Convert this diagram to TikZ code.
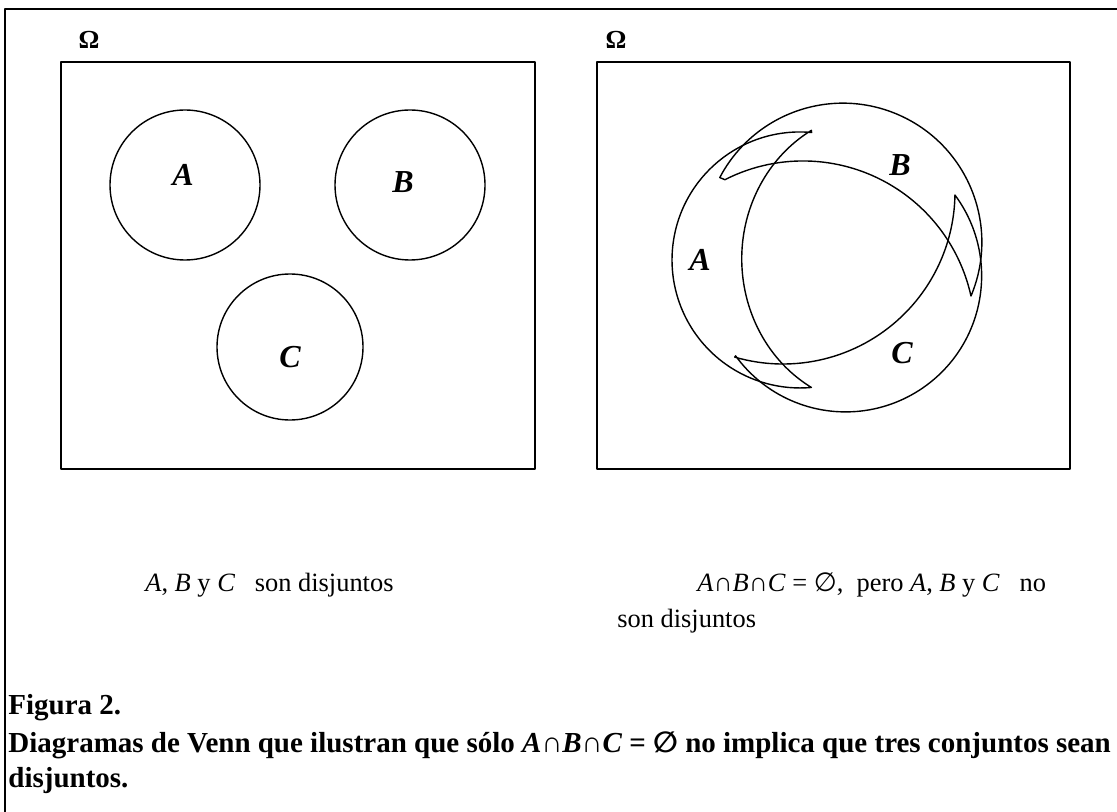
\documentclass[tikz,border=0pt]{standalone}
\usepackage{fontspec}
\setmainfont{Liberation Serif}
\newfontfamily\symf{DejaVu Sans}
\begin{document}
\begin{tikzpicture}[x=0.5pt,y=-0.5pt,line join=round]
\tikzset{
  frame/.style={line width=1.3pt},
  boxline/.style={line width=1pt},
  setline/.style={line width=0.7pt},
  setlab/.style={font=\fontsize{16}{18}\selectfont\bfseries\itshape},
  omega/.style={font=\fontsize{13}{15}\selectfont\bfseries},
  captxt/.style={font=\fontsize{13.2}{16}\selectfont, anchor=base west, inner sep=0pt},
  figcap/.style={font=\fontsize{14.5}{17}\selectfont\bfseries, anchor=base west, inner sep=0pt}
}
\useasboundingbox (0,0) rectangle (1117,812);
% outer frame
\draw[frame] (5,812) -- (5,9) -- (1117,9);
% universes
\draw[boxline] (61,62) rectangle (535,469);
\draw[boxline] (597,62) rectangle (1070,469);
\node[omega] (omL) at (89,40) {Ω};
\node[omega] (omR) at (616,40) {Ω};
% left: disjoint sets
\draw[setline] (185,185) circle[radius=75];
\draw[setline] (410,185) circle[radius=75];
\draw[setline] (290,347) circle[radius=73];
\node[setlab] (lA) at (183,175) {A};
\node[setlab] (lB) at (403,182) {B};
\node[setlab] (lC) at (290,357) {C};
% right: crescents
\draw[setline] (811.6,132.5) arc[start angle=-84.8, end angle=-275.1, radius=128]
   arc[start angle=119.7, end angle=240.3, x radius=138, y radius=148] -- cycle;
\draw[setline] (724.9,179.7) arc[start angle=-117, end angle=-12.4, radius=172]
   arc[start angle=22.8, end angle=-152.3, radius=139] -- cycle;
\draw[setline] (734.7,357.1) arc[start angle=106.3, end angle=1, radius=172]
   arc[start angle=-36.5, end angle=144, radius=136] -- cycle;
\node[setlab] (rA) at (700,260) {A};
\node[setlab] (rB) at (900,165) {B};
\node[setlab] (rC) at (902,353) {C};
% captions
\node[captxt] (capL) at (145,591) {\textit{A}, \textit{B} y \textit{C}\ \ \ son disjuntos};
\node[captxt] (capR1) at (697,591) {\textit{A}∩\textit{B}∩\textit{C} = {\symf ∅},\ \ pero \textit{A}, \textit{B} y \textit{C}\ \ \ no};
\node[captxt] (capR2) at (617,627) {son disjuntos};
\node[figcap] (fig) at (8,714) {Figura 2.};
\node[figcap] (fig2) at (8,752) {Diagramas de Venn que ilustran que sólo \textit{A}∩\textit{B}∩\textit{C} = {\symf ∅} no implica que tres conjuntos sean};
\node[figcap] (fig3) at (8,787) {disjuntos.};
\end{tikzpicture}
\end{document}
